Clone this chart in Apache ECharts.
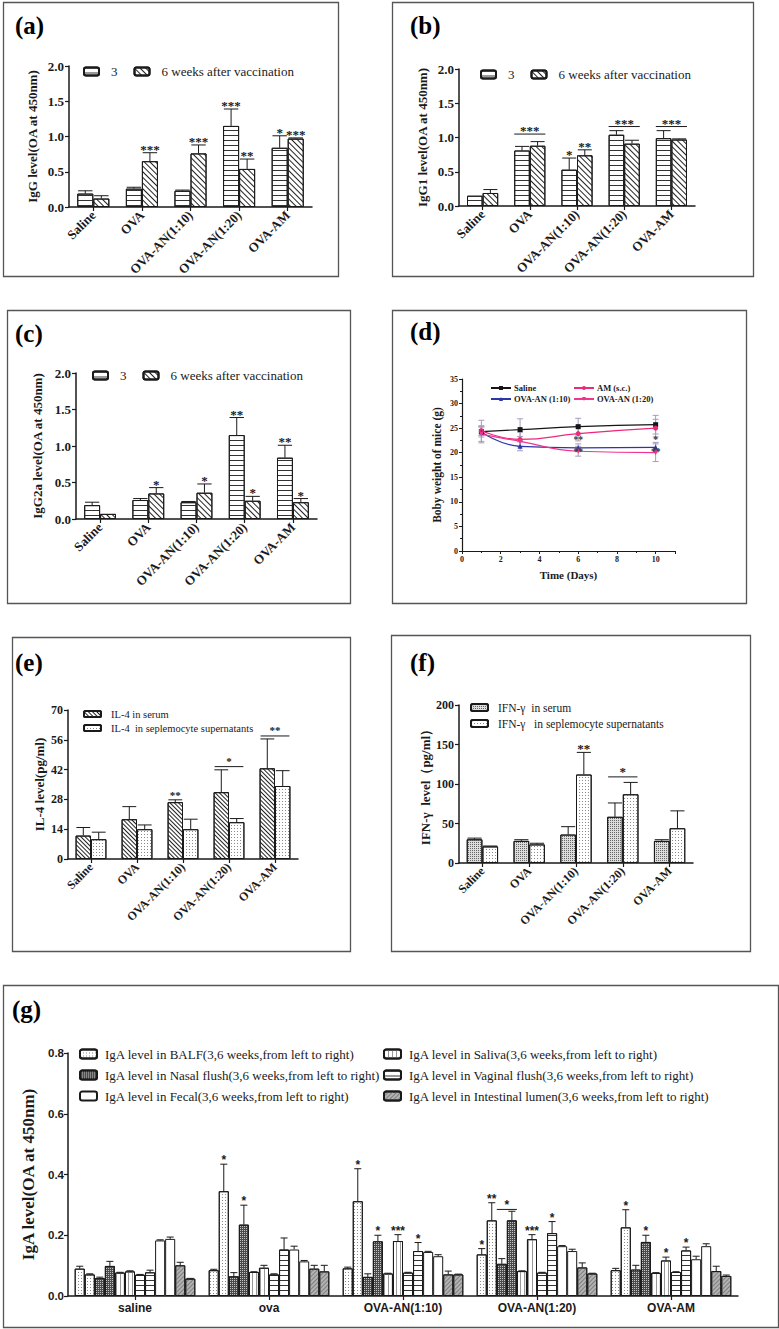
<!DOCTYPE html>
<html><head><meta charset="utf-8">
<script src="https://cdn.jsdelivr.net/npm/echarts@6.0.0/dist/echarts.min.js"></script>
<style>html,body{margin:0;padding:0;background:#fff}#c{width:779px;height:1329px}</style>
</head><body><div id="c"></div>
<script>
// ---------------- DATA ----------------
const catsBar = ['Saline','OVA','OVA-AN(1:10)','OVA-AN(1:20)','OVA-AM'];
const weekNames = ['3','6 weeks after vaccination'];
// (a) IgG
const iggW3 = [0.19,0.26,0.23,1.15,0.84];
const iggW3Err = [0.04,0.02,0.01,0.24,0.17];
const iggW6 = [0.12,0.65,0.76,0.54,0.97];
const iggW6Err = [0.04,0.12,0.12,0.14,0.01];
const iggW3Sig = ['','','','***','*'];
const iggW6Sig = ['','***','***','**','***'];
// (b) IgG1
const igg1W3 = [0.15,0.81,0.53,1.04,0.99];
const igg1W3Err = [0,0.06,0.17,0.06,0.11];
const igg1W6 = [0.19,0.88,0.74,0.91,0.97];
const igg1W6Err = [0.05,0.06,0.08,0.05,0.01];
const igg1W3Sig = ['','','*','',''];
const igg1W6Sig = ['','','**','',''];
const igg1Brackets = [[1,0,1,1.05,'***'],[3,0,1,1.16,'***'],[4,0,1,1.16,'***']];
// (c) IgG2a
const igg2aW3 = [0.19,0.26,0.23,1.15,0.84];
const igg2aW3Err = [0.04,0.02,0.01,0.24,0.17];
const igg2aW6 = [0.07,0.35,0.36,0.25,0.23];
const igg2aW6Err = [0,0.08,0.12,0.06,0.05];
const igg2aW3Sig = ['','','','**','**'];
const igg2aW6Sig = ['','*','*','*','*'];
// (d) body weight
const days = [1,3,6,10];
const bwNames = ['Saline','AM (s.c.)','OVA-AN (1:10)','OVA-AN (1:20)'];
const bwSaline = [24.3,24.7,25.3,25.7];
const bwSalineErr = [2.3,2.2,1.7,1.9];
const bwAM = [24.5,22.7,23.9,25.0];
const bwAMErr = [1.0,1.5,1.5,1.8];
const bwAN10 = [24.2,21.3,21.0,21.1];
const bwAN10Err = [1.0,0.9,0.8,1.0];
const bwAN20 = [23.8,22.3,20.3,20.0];
const bwAN20Err = [1.5,1.0,1.0,1.8];
const bwSig = [[6,22.5,'**'],[6,20.2,'**'],[10,22.5,'*'],[10,20.2,'**']];
// (e) IL-4
const il4Names = ['IL-4 in serum','IL-4  in seplemocyte supernatants'];
const il4Serum = [11.0,18.7,26.7,31.4,42.6];
const il4SerumErr = [3.8,5.9,1.1,10.5,13.8];
const il4Sup = [9.3,14.0,14.0,17.3,34.3];
const il4SupErr = [3.3,2.0,4.7,1.7,7.2];
const il4SerumSig = ['','','**','',''];
const il4Brackets = [[3,0,1,43.4,'*'],[4,0,1,57.8,'**']];
// (f) IFN-γ
const ifnNames = ['IFN-γ  in serum','IFN-γ   in seplemocyte supernatants'];
const ifnSerum = [30,28,36,58.5,28];
const ifnSerumErr = [1.5,1.5,10,17.5,1.5];
const ifnSup = [21,23.5,112,87,44];
const ifnSupErr = [0.5,1.5,28,15,22];
const ifnSupSig = ['','','**','',''];
const ifnBrackets = [[3,0,1,109,'*']];
// (g) IgA
const catsIgA = ['saline','ova','OVA-AN(1:10)','OVA-AN(1:20)','OVA-AM'];
const igaNames = [
  'IgA level in BALF(3,6 weeks,from left to right)',
  'IgA level in Nasal flush(3,6 weeks,from left to right)',
  'IgA level in Saliva(3,6 weeks,from left to right)',
  'IgA level in Vaginal flush(3,6 weeks,from left to right)',
  'IgA level in Fecal(3,6 weeks,from left to right)',
  'IgA level in Intestinal lumen(3,6 weeks,from left to right)'
];
const balf3 = [0.090,0.085,0.091,0.137,0.085];
const balf3Err = [0.008,0.003,0.004,0.019,0.006];
const balf6 = [0.071,0.345,0.312,0.249,0.226];
const balf6Err = [0.002,0.089,0.107,0.058,0.058];
const nasal3 = [0.059,0.065,0.063,0.106,0.087];
const nasal3Err = [0.003,0.012,0.010,0.017,0.014];
const nasal6 = [0.099,0.235,0.180,0.249,0.178];
const nasal6Err = [0.015,0.064,0.020,0.030,0.022];
const saliva3 = [0.077,0.079,0.074,0.082,0.076];
const saliva3Err = [0.001,0.001,0.001,0.001,0.001];
const saliva6 = [0.081,0.093,0.181,0.187,0.117];
const saliva6Err = [0.002,0.008,0.021,0.015,0.011];
const vag3 = [0.070,0.071,0.077,0.077,0.079];
const vag3Err = [0.001,0.002,0.001,0.001,0.001];
const vag6 = [0.078,0.153,0.148,0.207,0.150];
const vag6Err = [0.007,0.038,0.028,0.038,0.011];
const fecal3 = [0.183,0.153,0.145,0.164,0.121];
const fecal3Err = [0.002,0.011,0.002,0.002,0.010];
const fecal6 = [0.188,0.114,0.131,0.148,0.164];
const fecal6Err = [0.006,0.003,0.005,0.006,0.008];
const int3 = [0.101,0.090,0.071,0.094,0.082];
const int3Err = [0.010,0.011,0.011,0.015,0.016];
const int6 = [0.057,0.081,0.071,0.074,0.066];
const int6Err = [0.001,0.020,0.001,0.001,0.003];
// [category, bar index (0..11), text]
const igaSig = [[1,1,'*'],[1,3,'*'],[2,1,'*'],[2,3,'*'],[2,5,'***'],[2,7,'*'],
  [3,0,'*'],[3,1,'**'],[3,5,'***'],[3,7,'*'],[4,1,'*'],[4,3,'*'],[4,5,'*'],[4,7,'*']];
const igaBrackets = [[3,2,3,0.285,'*']];

// ---------------- STYLE ----------------
const SERIF = '"Liberation Serif","Times New Roman",serif';
const SANS = '"Liberation Sans",Arial,sans-serif';
const INK = '#1a1a1a';
const DEC = {
  hline: {symbol:'rect', symbolSize:1, dashArrayX:[1,0], dashArrayY:[1,4], rotation:0, color:'#333'},
  diag: {symbol:'rect', symbolSize:1, dashArrayX:[1,0], dashArrayY:[1,2.2], rotation:Math.PI/4, color:'#222'},
  diagDense: {symbol:'rect', symbolSize:1, dashArrayX:[1,0], dashArrayY:[1,1.7], rotation:Math.PI/4, color:'#222'},
  dots: {symbol:'rect', symbolSize:1, dashArrayX:[1,2], dashArrayY:[1,2], rotation:0, color:'#8a8a8a'},
  checkDark: {symbol:'rect', symbolSize:1, dashArrayX:[1,1], dashArrayY:[1,1], rotation:0, color:'#c4c4c4'},
  checkMid: {symbol:'rect', symbolSize:1, dashArrayX:[1,1], dashArrayY:[1,1], rotation:0, color:'#666'},
  vline: {symbol:'rect', symbolSize:1, dashArrayX:[1,3], dashArrayY:[1,0], rotation:0, color:'#999'},
  grayDiag: {symbol:'rect', symbolSize:1, dashArrayX:[1,0], dashArrayY:[1,2], rotation:-Math.PI/4, color:'#7f7f7f'}
};

const xAxes = [], yAxes = [], series = [], legends = [], grids = [];

function grid(l,t,w,h){ grids.push({left:l, top:t, width:w, height:h, containLabel:false, outerBoundsMode:'none'}); }
function catAxis(gi, cats, lab){
  xAxes.push({type:'category', gridIndex:gi, data:cats,
    axisLine:{lineStyle:{color:INK, width:1.5}},
    axisTick:{show:true, alignWithLabel:true, length:4, lineStyle:{color:INK, width:1.2}},
    axisLabel:lab, splitLine:{show:false}});
}
function valAxis(gi, min, max, interval, name, nameGap, nameFont, lab){
  yAxes.push({type:'value', gridIndex:gi, min:min, max:max, interval:interval,
    name:name, nameLocation:'middle', nameGap:nameGap, nameRotate:90,
    nameTextStyle:nameFont,
    axisLine:{show:true, lineStyle:{color:INK, width:1.5}},
    axisTick:{show:true, length:4, lineStyle:{color:INK, width:1.2}},
    axisLabel:lab, splitLine:{show:false}});
}
function bar(gi, name, data, fill, decal, gap){
  series.push({type:'bar', name:name, xAxisIndex:gi, yAxisIndex:gi, data:data,
    barGap:'0%', barCategoryGap:gap, silent:true, z:2,
    itemStyle:{color:fill, borderColor:INK, borderWidth:1, decal:decal}});
}
function barX(api, ci, n, k, gapRatio){
  const band = api.size([1,0])[0];
  const gw = band*(1-gapRatio), bw = gw/n;
  return {x: api.coord([ci,0])[0] - gw/2 + (k+0.5)*bw, bw: bw, gw: gw};
}
function errBars(gi, vals, errs, n, k, gapRatio, capRatio){
  series.push({type:'custom', name:'err'+gi+'_'+k, xAxisIndex:gi, yAxisIndex:gi, silent:true, z:3,
    data: vals.map((v,i)=>[i, v, errs[i]]), encode:{x:0, y:1},
    renderItem:function(params, api){
      const ci = api.value(0), v = api.value(1), e = api.value(2);
      if (!e) return null;
      const p = barX(api, ci, n, k, gapRatio);
      const y0 = api.coord([ci, v])[1], y1 = api.coord([ci, v+e])[1];
      const cw = p.bw*capRatio;
      return {type:'group', children:[
        {type:'line', shape:{x1:p.x, y1:y0, x2:p.x, y2:y1}, style:{stroke:INK, lineWidth:1}},
        {type:'line', shape:{x1:p.x-cw, y1:y1, x2:p.x+cw, y2:y1}, style:{stroke:INK, lineWidth:1}}
      ]};
    }});
}
function stars(gi, vals, errs, sig, n, k, gapRatio, font, dy){
  series.push({type:'custom', name:'sig'+gi+'_'+k, xAxisIndex:gi, yAxisIndex:gi, silent:true, z:4,
    data: vals.map((v,i)=>[i, v, errs[i]]), encode:{x:0, y:1},
    renderItem:function(params, api){
      const t = sig[params.dataIndex];
      if (!t) return null;
      const ci = api.value(0), v = api.value(1), e = api.value(2);
      const p = barX(api, ci, n, k, gapRatio);
      const y = api.coord([ci, v+e])[1];
      return {type:'text', x:p.x, y:y+dy, style:{text:t, font:font, fill:INK, align:'center', verticalAlign:'bottom'}};
    }});
}
function brackets(gi, items, n, gapRatio, font, inset, textDy){
  series.push({type:'custom', name:'br'+gi, xAxisIndex:gi, yAxisIndex:gi, silent:true, z:4,
    data: items.map(it=>[it[0], it[3]]), encode:{x:0, y:1},
    renderItem:function(params, api){
      const it = items[params.dataIndex];
      const a = barX(api, it[0], n, it[1], gapRatio), b = barX(api, it[0], n, it[2], gapRatio);
      const x1 = a.x - a.bw/2 + inset, x2 = b.x + b.bw/2 - inset;
      const y = api.coord([it[0], it[3]])[1];
      return {type:'group', children:[
        {type:'line', shape:{x1:x1, y1:y, x2:x2, y2:y}, style:{stroke:INK, lineWidth:1}},
        {type:'text', x:(x1+x2)/2, y:y+textDy, style:{text:it[4], font:font, fill:INK, align:'center', verticalAlign:'bottom'}}
      ]};
    }});
}

const rotLab = {rotate:45, fontFamily:SERIF, fontWeight:'bold', fontSize:13, color:INK, margin:6};
const rotLabSm = {rotate:45, fontFamily:SERIF, fontWeight:'bold', fontSize:12, color:INK, margin:6};
const yLabFix1 = {fontFamily:SERIF, fontWeight:'bold', fontSize:13, color:INK, margin:5, formatter:v=>v.toFixed(1)};
const yNameFont = {fontFamily:SERIF, fontWeight:'bold', fontSize:13, color:INK};
const starFont = 'bold 13px ' + SERIF;

// ---------- Panels a, b, c ----------
function weekPanel(gi, l, t, w, h, yName, nameGap, w3, w3e, w6, w6e, s3, s6){
  grid(l,t,w,h);
  catAxis(gi, catsBar, rotLab);
  valAxis(gi, 0, 2, 0.5, yName, nameGap, yNameFont, yLabFix1);
  bar(gi, weekNames[0], w3, '#fff', DEC.hline, '34%');
  bar(gi, weekNames[1], w6, '#fff', DEC.diag, '34%');
  errBars(gi, w3, w3e, 2, 0, 0.34, 0.45);
  errBars(gi, w6, w6e, 2, 1, 0.34, 0.45);
  stars(gi, w3, w3e, s3, 2, 0, 0.34, starFont, 3);
  stars(gi, w6, w6e, s6, 2, 1, 0.34, starFont, 3);
}
weekPanel(0, 69, 66, 243, 141, 'IgG level(OA at 450nm)', 30, iggW3, iggW3Err, iggW6, iggW6Err, iggW3Sig, iggW6Sig);
weekPanel(1, 459, 69, 236, 137, 'IgG1 level(OA at 450nm)', 30, igg1W3, igg1W3Err, igg1W6, igg1W6Err, igg1W3Sig, igg1W6Sig);
brackets(1, igg1Brackets, 2, 0.34, starFont, 0, 3);
weekPanel(2, 76, 373, 241, 146, 'IgG2a level(OA at 450nm)', 32, igg2aW3, igg2aW3Err, igg2aW6, igg2aW6Err, igg2aW3Sig, igg2aW6Sig);
function weekLegend(l, t){
  legends.push({selectedMode:false, left:l, top:t, padding:0, itemWidth:15, itemHeight:8, itemGap:16,
    data:weekNames, textStyle:{fontFamily:SERIF, fontSize:13, color:INK, padding:[0,0,0,7]}});
}
weekLegend(83, 65);
weekLegend(480, 68);
weekLegend(92, 369);

// ---------- Panel d ----------
grid(462, 379, 213, 172);
xAxes.push({type:'value', gridIndex:3, min:0, max:11, interval:2,
  name:'Time (Days)', nameLocation:'middle', nameGap:18,
  nameTextStyle:{fontFamily:SERIF, fontWeight:'bold', fontSize:11, color:INK},
  axisLine:{lineStyle:{color:INK, width:1.2}}, axisTick:{length:3, lineStyle:{color:INK}},
  minorTick:{show:true, splitNumber:2, length:2, lineStyle:{color:INK}},
  axisLabel:{fontFamily:SERIF, fontWeight:'bold', fontSize:8, color:INK, margin:4, showMaxLabel:false},
  splitLine:{show:false}});
yAxes.push({type:'value', gridIndex:3, min:0, max:35, interval:5,
  name:'Boby weight of mice (g)', nameLocation:'middle', nameGap:19, nameRotate:90,
  nameTextStyle:{fontFamily:SERIF, fontWeight:'bold', fontSize:11.5, color:INK},
  axisLine:{show:true, lineStyle:{color:INK, width:1.2}}, axisTick:{show:true, length:3, lineStyle:{color:INK}},
  minorTick:{show:true, splitNumber:2, length:2, lineStyle:{color:INK}},
  axisLabel:{fontFamily:SERIF, fontWeight:'bold', fontSize:8, color:INK, margin:4},
  splitLine:{show:false}});
const bwSets = [
  [bwNames[0], bwSaline, bwSalineErr, '#151515', 'rect', 0],
  [bwNames[1], bwAM, bwAMErr, '#ec2a7c', 'circle', 0],
  [bwNames[2], bwAN10, bwAN10Err, '#2c36a6', 'triangle', 0],
  [bwNames[3], bwAN20, bwAN20Err, '#f2358c', 'triangle', 180]
];
bwSets.forEach(s=>{
  series.push({type:'custom', name:'bwErr'+s[0], xAxisIndex:3, yAxisIndex:3, silent:true, z:1,
    data: days.map((d,i)=>[d, s[1][i], s[2][i]]), encode:{x:0,y:1},
    renderItem:function(params, api){
      const x = api.coord([api.value(0), 0])[0];
      const v = api.value(1), e = api.value(2);
      const ya = api.coord([0, v+e])[1], yb = api.coord([0, v-e])[1];
      const st = {stroke:'#a79cbc', lineWidth:1};
      return {type:'group', children:[
        {type:'line', shape:{x1:x, y1:ya, x2:x, y2:yb}, style:st},
        {type:'line', shape:{x1:x-3, y1:ya, x2:x+3, y2:ya}, style:st},
        {type:'line', shape:{x1:x-3, y1:yb, x2:x+3, y2:yb}, style:st}
      ]};
    }});
  series.push({type:'line', name:s[0], xAxisIndex:3, yAxisIndex:3, silent:true, z:3,
    data: days.map((d,i)=>[d, s[1][i]]), smooth:true, symbol:s[4], symbolRotate:s[5], symbolSize:5,
    itemStyle:{color:s[3]}, lineStyle:{color:s[3], width:1.2}});
});
series.push({type:'custom', name:'bwSig', xAxisIndex:3, yAxisIndex:3, silent:true, z:5,
  data: bwSig.map(s=>[s[0], s[1]]), encode:{x:0,y:1},
  renderItem:function(params, api){
    const pt = api.coord([api.value(0), api.value(1)]);
    return {type:'text', x:pt[0], y:pt[1], style:{text:bwSig[params.dataIndex][2], font:'bold 9.5px '+SERIF, fill:'#333', align:'center', verticalAlign:'middle'}};
  }});
function bwLegend(l, names){
  legends.push({selectedMode:false, left:l, top:383, padding:0, orient:'vertical', itemWidth:20, itemHeight:5, itemGap:1,
    data:names, textStyle:{fontFamily:SERIF, fontWeight:'bold', fontSize:8.5, lineHeight:10, color:INK, padding:[0,0,0,-2]}});
}
bwLegend(490, [bwNames[0], bwNames[2]]);
bwLegend(573, [bwNames[1], bwNames[3]]);

// ---------- Panel e ----------
grid(68, 710, 230, 149);
catAxis(4, catsBar, rotLabSm);
valAxis(4, 0, 70, 14, 'IL-4 level(pg/ml)', 22, {fontFamily:SERIF, fontWeight:'bold', fontSize:13, color:INK},
  {fontFamily:SERIF, fontWeight:'bold', fontSize:12, color:INK, margin:5});
bar(4, il4Names[0], il4Serum, '#fff', DEC.diagDense, '33%');
bar(4, il4Names[1], il4Sup, '#fff', DEC.dots, '33%');
errBars(4, il4Serum, il4SerumErr, 2, 0, 0.33, 0.45);
errBars(4, il4Sup, il4SupErr, 2, 1, 0.33, 0.45);
stars(4, il4Serum, il4SerumErr, il4SerumSig, 2, 0, 0.33, 'bold 11px '+SERIF, 1);
brackets(4, il4Brackets, 2, 0.33, 'bold 11px '+SERIF, 1, 0);
legends.push({selectedMode:false, left:83, top:708, padding:0, orient:'vertical', itemWidth:17, itemHeight:6, itemGap:2,
  data:il4Names, textStyle:{fontFamily:SERIF, fontSize:10.5, lineHeight:12, color:INK, padding:[0,0,0,5]}});

// ---------- Panel f ----------
grid(459, 705, 234, 158);
catAxis(5, catsBar, rotLabSm);
valAxis(5, 0, 200, 50, 'IFN-γ  level（pg/ml）', 27, {fontFamily:SERIF, fontWeight:'bold', fontSize:13, color:INK},
  {fontFamily:SERIF, fontWeight:'bold', fontSize:12, color:INK, margin:5});
bar(5, ifnNames[0], ifnSerum, '#dcdcdc', DEC.checkMid, '33%');
bar(5, ifnNames[1], ifnSup, '#fff', DEC.dots, '33%');
errBars(5, ifnSerum, ifnSerumErr, 2, 0, 0.33, 0.45);
errBars(5, ifnSup, ifnSupErr, 2, 1, 0.33, 0.45);
stars(5, ifnSup, ifnSupErr, ifnSupSig, 2, 1, 0.33, 'bold 13px '+SERIF, 3);
brackets(5, ifnBrackets, 2, 0.33, 'bold 13px '+SERIF, 1, 1);
legends.push({selectedMode:false, left:470, top:701, padding:0, orient:'vertical', itemWidth:17, itemHeight:7, itemGap:3,
  data:ifnNames, textStyle:{fontFamily:SERIF, fontSize:11.5, lineHeight:13, color:INK, padding:[0,0,0,5]}});

// ---------- Panel g ----------
grid(68, 1053, 670, 243);
catAxis(6, catsIgA, {fontFamily:SANS, fontWeight:'bold', fontSize:12, color:INK, margin:6});
valAxis(6, 0, 0.8, 0.2, 'IgA level(OA at 450nm)', 31, {fontFamily:SERIF, fontWeight:'bold', fontSize:17, color:INK},
  {fontFamily:SANS, fontWeight:'bold', fontSize:11.5, color:INK, margin:4, formatter:v=>v.toFixed(1)});
const G_GAP = 0.1;
const igaSets = [
  [igaNames[0], balf3, balf3Err, '#fff', DEC.dots],
  [igaNames[0], balf6, balf6Err, '#fff', DEC.dots],
  [igaNames[1], nasal3, nasal3Err, '#4a4a4a', DEC.checkDark],
  [igaNames[1], nasal6, nasal6Err, '#4a4a4a', DEC.checkDark],
  [igaNames[2], saliva3, saliva3Err, '#fff', DEC.vline],
  [igaNames[2], saliva6, saliva6Err, '#fff', DEC.vline],
  [igaNames[3], vag3, vag3Err, '#fff', DEC.hline],
  [igaNames[3], vag6, vag6Err, '#fff', DEC.hline],
  [igaNames[4], fecal3, fecal3Err, '#fff', null],
  [igaNames[4], fecal6, fecal6Err, '#fff', null],
  [igaNames[5], int3, int3Err, '#b3b3b3', DEC.grayDiag],
  [igaNames[5], int6, int6Err, '#b3b3b3', DEC.grayDiag]
];
igaSets.forEach((s,k)=>{ bar(6, s[0], s[1], s[3], s[4], '10%'); });
igaSets.forEach((s,k)=>{ errBars(6, s[1], s[2], 12, k, G_GAP, 0.35); });
series.push({type:'custom', name:'igaSig', xAxisIndex:6, yAxisIndex:6, silent:true, z:4,
  data: igaSig.map(s=>[s[0], igaSets[s[1]][1][s[0]] + igaSets[s[1]][2][s[0]]]), encode:{x:0,y:1},
  renderItem:function(params, api){
    const s = igaSig[params.dataIndex];
    const p = barX(api, s[0], 12, s[1], G_GAP);
    const y = api.coord([s[0], api.value(1)])[1];
    return {type:'text', x:p.x, y:y+2, style:{text:s[2], font:'bold 12px '+SANS, fill:INK, align:'center', verticalAlign:'bottom'}};
  }});
brackets(6, igaBrackets, 12, G_GAP, 'bold 12px '+SANS, 0, 2);
function igaLegend(l, names){
  legends.push({selectedMode:false, left:l, top:1047, padding:0, orient:'vertical', itemWidth:17, itemHeight:9, itemGap:7,
    data:names, textStyle:{fontFamily:SERIF, fontSize:13, lineHeight:14, color:INK, padding:[0,0,0,3]}});
}
igaLegend(79, [igaNames[0], igaNames[1], igaNames[4]]);
igaLegend(383, [igaNames[2], igaNames[3], igaNames[5]]);

// ---------- frames and panel labels ----------
const frames = [[3,2,335,274],[392,2,361,274],[7,310,343,293],[392,310,354,293],[12,637,338,314],[391,635,359,316],[3,985,775,342]];
const panelLabels = [['(a)',15,25],['(b)',410,25],['(c)',15,333],['(d)',410,331],['(e)',15,662],['(f)',410,662],['(g)',12,1009]];
const graphic = [];
frames.forEach(f=>graphic.push({type:'rect', silent:true, shape:{x:f[0]+0.5, y:f[1]+0.5, width:f[2], height:f[3]},
  style:{fill:null, stroke:'#555', lineWidth:1.3}, z:0}));
panelLabels.forEach(p=>graphic.push({type:'text', silent:true, x:p[1], y:p[2],
  style:{text:p[0], font:'bold 25px '+SERIF, fill:'#000', align:'left', verticalAlign:'middle'}}));

const chart = echarts.init(document.getElementById('c'), null, {renderer:'svg', width:779, height:1329});
chart.setOption({
  animation:false, backgroundColor:'#fff',
  grid:grids, xAxis:xAxes, yAxis:yAxes, legend:legends, series:series, graphic:graphic
});
</script></body></html>
